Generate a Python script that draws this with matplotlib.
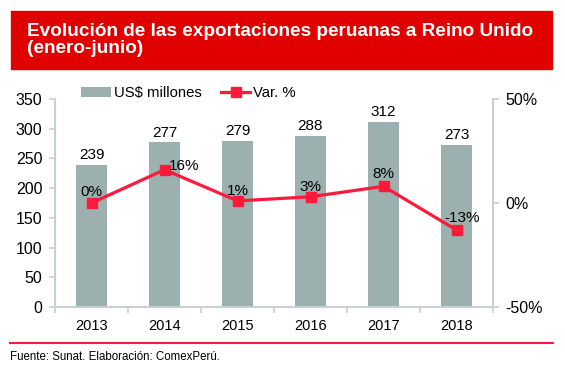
import matplotlib.pyplot as plt
import matplotlib.patches as mpatches
import numpy as np

plt.rcParams['font.family'] = ['Liberation Sans', 'DejaVu Sans']

years = ['2013', '2014', '2015', '2016', '2017', '2018']
exports = [239, 277, 279, 288, 312, 273]
var_pct = [0, 16, 1, 3, 8, -13]
pct_labels = ['0%', '16%', '1%', '3%', '8%', '-13%']

bar_color = '#9BB0AF'
line_color = '#FF1A3C'
spine_color = '#C8D0D0'

fig = plt.figure(figsize=(5.65, 3.76), dpi=100)

# title box
fig.patches.append(mpatches.Rectangle((11/565, 1-69/376), 541/565, 58/376,
                                      transform=fig.transFigure, color='#E00000', zorder=0))
fig.text(27/565, 1-40/376, 'Evolución de las exportaciones peruanas a Reino Unido\n(enero-junio)',
         color='white', fontsize=13.7, fontweight='bold', va='center', ha='left',
         linespacing=1.0)

ax = fig.add_axes([55/565, 1-307/376, 438/565, 208/376])
x = np.arange(len(years))
bars = ax.bar(x, exports, width=0.42, color=bar_color, label='US$ millones', zorder=2)
for xi, v in zip(x, exports):
    ax.annotate(str(v), (xi, v), xytext=(0, 2), textcoords='offset points',
                ha='center', va='bottom', fontsize=11)

ax.set_xlim(-0.5, len(years) - 0.5)
ax.set_ylim(0, 350)
ax.set_yticks(range(0, 351, 50))
ax.set_xticks(x)
ax.set_xticklabels(years)
ax.set_xticks(np.arange(-0.5, len(years), 1), minor=True)
ax.tick_params(axis='x', which='major', length=0, pad=9, labelsize=10.5)
ax.tick_params(axis='x', which='minor', length=4, color=spine_color, width=1.2)
ax.tick_params(axis='y', length=4, color=spine_color, width=1.2, labelsize=11.5, pad=5)
for s in ['top', 'right']:
    ax.spines[s].set_visible(False)
for s in ['left', 'bottom']:
    ax.spines[s].set_color(spine_color)
    ax.spines[s].set_linewidth(1.5)

ax2 = ax.twinx()
line, = ax2.plot(x, var_pct, color=line_color, lw=2.3, marker='s', ms=6.5,
                 label='Var. %', zorder=3)
ax2.set_ylim(-50, 50)
ax2.set_yticks([-50, 0, 50])
ax2.set_yticklabels(['-50%', '0%', '50%'])
ax2.tick_params(axis='y', length=4, color=spine_color, width=1.2, labelsize=11.5, pad=5)
for s in ['top', 'left', 'bottom']:
    ax2.spines[s].set_visible(False)
ax2.spines['right'].set_color(spine_color)
ax2.spines['right'].set_linewidth(1.5)

offsets = [(0, 8), (14, 3), (0, 7), (0, 7), (0, 9), (4, 9)]
for xi, v, lab, (dx, dy) in zip(x, var_pct, pct_labels, offsets):
    ax2.annotate(lab, (xi, v), xytext=(dx, dy), textcoords='offset points',
                 ha='center', va='center', fontsize=11)

fig.legend([bars, line], ['US$ millones', 'Var. %'], loc='center left',
           bbox_to_anchor=(75/565, 1-93/376), ncol=2, frameon=False, fontsize=10.7,
           handlelength=2.0, columnspacing=1.3, handletextpad=0.2, borderaxespad=0)

# bottom red rule and source
fig.add_artist(plt.Line2D([10/565, 553/565], [1-343/376, 1-343/376],
                          transform=fig.transFigure, color=line_color, lw=1.5))
fig.text(10/565, 1-357/376, 'Fuente: Sunat. Elaboración: ComexPerú.', fontsize=8.3,
         ha='left', va='center')

fig.savefig('out.png', dpi=100)
